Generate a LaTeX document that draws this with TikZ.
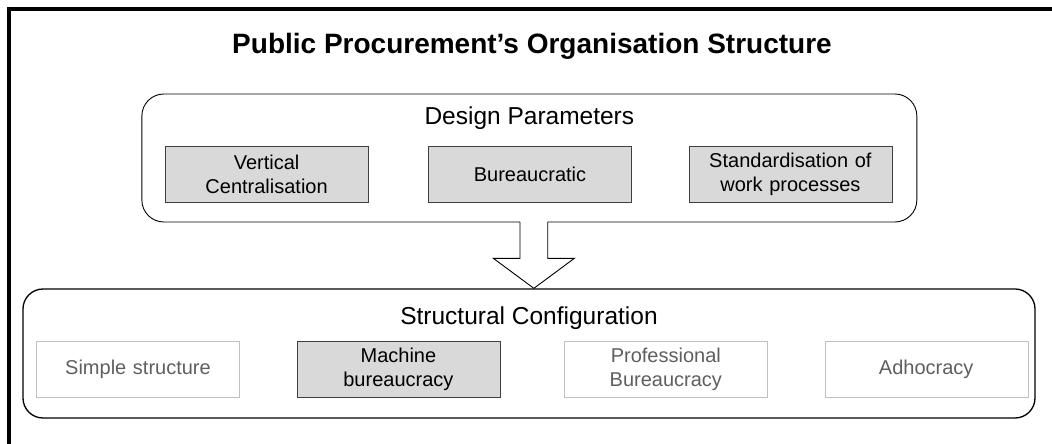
\documentclass[tikz,border=0pt]{standalone}
\usepackage{fontspec}
\setmainfont{Liberation Sans}
\usetikzlibrary{positioning, calc}
\definecolor{BoxGray}{HTML}{D9D9D9}
\definecolor{EdgeGray}{HTML}{C0C0C0}
\definecolor{FadeText}{HTML}{5F5F5F}

\begin{document}
\begin{tikzpicture}[x=1pt, y=1pt, node distance=57pt]
        \tikzstyle{group} = [rectangle, draw=black, rounded corners=22pt, inner sep=0pt]
        \tikzstyle{head}  = [anchor=base, inner sep=0pt, font=\fontsize{24.5}{29}\selectfont]
        \tikzstyle{param} = [rectangle, draw=black!75, fill=BoxGray, minimum width=203pt, minimum height=56pt, text width=195pt, align=center, inner sep=0pt, font=\fontsize{20}{24}\selectfont]
        \tikzstyle{faded} = [param, draw=EdgeGray, fill=white, text=FadeText]

        \useasboundingbox (0,0) rectangle (1052,444);
        % Frame
        \draw[line width=4pt] (9,0) -- (9,434.7) -- (1052,434.7);

        % Title
        \node[anchor=base, font=\fontsize{28}{34}\selectfont\bfseries] (title) at (532,390.3) {Public Procurement's Organisation Structure};

        % Design parameters
        \node[group, line width=0.9pt, minimum width=775pt, minimum height=128pt] (dp) at (529.35,286) {};
        \node[head] (dphead) at (529.35,319.3) {Design Parameters};
        \node[param] (bur) at (530,270) {Bureaucratic};
        \node[param, left=60pt of bur] (vc) {Vertical\\ Centralisation};
        \node[param, right=57pt of bur] (std) {Standardisation of\\ work processes};

        % Structural configuration
        \node[group, line width=1.3pt, rounded corners=20pt, minimum width=1012pt, minimum height=129pt] (sc) at (529,90.5) {};
        \node[head] (schead) at (529,119.3) {Structural Configuration};
        \node[faded] (simple) at (138,75) {Simple structure};
        \node[param, right=of simple] (machine) {Machine\\ bureaucracy};
        \node[faded, right=64pt of machine] (prof) {Professional\\ Bureaucracy};
        \node[faded, right=of prof] (adhoc) {Adhocracy};

        % Block arrow
        \coordinate (atop) at ([xshift=4.5pt]dp.south);
        \coordinate (atip) at ([xshift=4.85pt]sc.north);
        \fill[white] ($(atop)+(-13.85,1.5)$) -- ($(atip)+(-13.85,30)$) -- ($(atip)+(-40.5,30)$) -- (atip) -- ($(atip)+(40.5,30)$) -- ($(atip)+(13.85,30)$) -- ($(atop)+(13.85,1.5)$) -- cycle;
        \draw[line width=0.9pt, line join=miter] ($(atop)+(-13.85,0.5)$) -- ($(atip)+(-13.85,30)$) -- ($(atip)+(-40.5,30)$) -- (atip) -- ($(atip)+(40.5,30)$) -- ($(atip)+(13.85,30)$) -- ($(atop)+(13.85,0.5)$);
    \end{tikzpicture}
\end{document}
